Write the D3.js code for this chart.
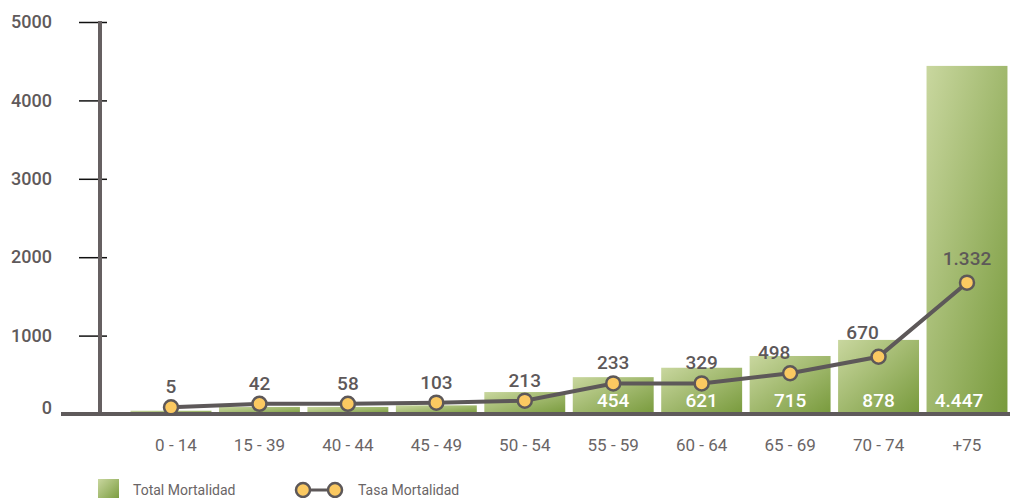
<!DOCTYPE html>
<html>
<head>
<meta charset="utf-8">
<script src="https://cdn.jsdelivr.net/npm/d3@7"></script>
<style>
  body { margin: 0; background: #fff; }
  svg { display: block; font-family: Roboto, "DejaVu Sans", sans-serif; }
</style>
</head>
<body>
<div id="chart"></div>
<script>
// data
var ageGroups = ["0 - 14", "15 - 39", "40 - 44", "45 - 49", "50 - 54", "55 - 59", "60 - 64", "65 - 69", "70 - 74", "+75"];
// bar heights as drawn in the picture
var totalMortalidad = [42, 90, 90, 110, 280, 470, 590, 740, 945, 4440];
var totalLabels = ["", "", "", "", "", "454", "621", "715", "878", "4.447"];
var tasaMortalidad = ["5", "42", "58", "103", "213", "233", "329", "498", "670", "1.332"];
// where the rate points sit, read against the left axis
var tasaPlot = [85, 130, 130, 145, 170, 390, 390, 520, 730, 1675];
var yTicks = [0, 1000, 2000, 3000, 4000, 5000];

function draw(){
  var width = 1014, height = 498;
  var svg = d3.select("#chart").append("svg").attr("width", width).attr("height", height);

  var defs = svg.append("defs");
  var grad = defs.append("linearGradient").attr("id", "barGrad")
      .attr("x1", 0).attr("y1", 0).attr("x2", 1).attr("y2", 1);
  grad.append("stop").attr("offset", "0%").attr("stop-color", "#c9d79f");
  grad.append("stop").attr("offset", "100%").attr("stop-color", "#789a3c");

  var x = d3.scaleBand().domain(ageGroups).range([127, 1011]).paddingInner(0.085).paddingOuter(0.04);
  var y = d3.scaleLinear().domain([0, 5000]).range([414, 22]);

  // bars
  svg.selectAll("rect.bar")
      .data(totalMortalidad)
      .enter().append("rect")
        .attr("class", "bar")
        .attr("x", function(d, i){ return x(ageGroups[i]); })
        .attr("width", x.bandwidth())
        .attr("y", function(d){ return y(d); })
        .attr("height", function(d){ return y(0) - y(d); })
        .attr("fill", "url(#barGrad)");

  // white values inside bars
  svg.selectAll("text.inbar")
      .data(totalLabels)
      .enter().append("text")
        .attr("class", "inbar")
        .attr("x", function(d, i){ return x(ageGroups[i]) + x.bandwidth() / 2 + (i == 9 ? -8 : 0); })
        .attr("y", 407)
        .attr("text-anchor", "middle")
        .attr("fill", "#fff")
        .attr("font-size", 19)
        .attr("font-weight", 500)
        .text(function(d){ return d; });

  // y axis ticks
  var yAxis = d3.axisLeft(y).tickValues(yTicks).tickSize(28).tickPadding(27).tickFormat(d3.format("d"));
  var gy = svg.append("g").attr("transform", "translate(107,0)").call(yAxis);
  gy.select(".domain").remove();
  gy.selectAll(".tick line").attr("stroke", "#111").attr("stroke-width", 1.5);
  gy.selectAll(".tick text")
      .attr("fill", "#5f5a5b")
      .attr("font-size", 18)
      .attr("font-weight", 500)
      .attr("font-family", "Roboto, sans-serif")
      .attr("y", function(d){ return d == 0 ? -6 : 0; });

  // axis lines
  svg.append("line").attr("x1", 100).attr("x2", 100).attr("y1", 21).attr("y2", 414)
      .attr("stroke", "#666061").attr("stroke-width", 4);
  svg.append("line").attr("x1", 61).attr("x2", 1010).attr("y1", 414).attr("y2", 414)
      .attr("stroke", "#5f5a5b").attr("stroke-width", 4);

  // x labels
  var xAxis = d3.axisBottom(x).tickSize(0).tickPadding(0);
  var gx = svg.append("g").attr("transform", "translate(0,439)").call(xAxis);
  gx.select(".domain").remove();
  gx.selectAll(".tick text")
      .attr("fill", "#6a6566")
      .attr("font-size", 17)
      .attr("font-family", "Roboto, sans-serif")
      .attr("x", function(d, i){ return i == 0 ? 5 : 0; });

  // rate line
  var line = d3.line()
      .x(function(d, i){ return x(ageGroups[i]) + x.bandwidth() / 2; })
      .y(function(d){ return y(d); });
  svg.append("path").datum(tasaPlot)
      .attr("d", line)
      .attr("fill", "none")
      .attr("stroke", "#5d5859")
      .attr("stroke-width", 4);

  svg.selectAll("circle.pt")
      .data(tasaPlot)
      .enter().append("circle")
        .attr("class", "pt")
        .attr("cx", function(d, i){ return x(ageGroups[i]) + x.bandwidth() / 2; })
        .attr("cy", function(d){ return y(d); })
        .attr("r", 7)
        .attr("fill", "#fbc961")
        .attr("stroke", "#5d5859")
        .attr("stroke-width", 2.5);

  svg.selectAll("text.rate")
      .data(tasaMortalidad)
      .enter().append("text")
        .attr("class", "rate")
        .attr("x", function(d, i){
          var shift = (i == 7 || i == 8) ? -16 : 0;
          return x(ageGroups[i]) + x.bandwidth() / 2 + shift; })
        .attr("y", function(d, i){ return y(tasaPlot[i]) - (i >= 8 ? 18 : 14); })
        .attr("text-anchor", "middle")
        .attr("fill", "#5d5859")
        .attr("font-size", 19)
        .attr("font-weight", 500)
        .text(function(d){ return d; });

  // legend
  svg.append("rect").attr("x", 98).attr("y", 479).attr("width", 21).attr("height", 21)
      .attr("fill", "url(#barGrad)");
  svg.append("text").attr("x", 133).attr("y", 495)
      .attr("fill", "#6a6566").attr("font-size", 14).text("Total Mortalidad");

  svg.append("line").attr("x1", 303).attr("x2", 335).attr("y1", 490).attr("y2", 490)
      .attr("stroke", "#5d5859").attr("stroke-width", 3);
  svg.selectAll("circle.leg")
      .data([303, 335])
      .enter().append("circle")
        .attr("class", "leg")
        .attr("cx", function(d){ return d; })
        .attr("cy", 490)
        .attr("r", 7)
        .attr("fill", "#fbc961")
        .attr("stroke", "#5d5859")
        .attr("stroke-width", 2.5);
  svg.append("text").attr("x", 358).attr("y", 495)
      .attr("fill", "#6a6566").attr("font-size", 14).text("Tasa Mortalidad");
}

draw();
</script>
</body>
</html>
